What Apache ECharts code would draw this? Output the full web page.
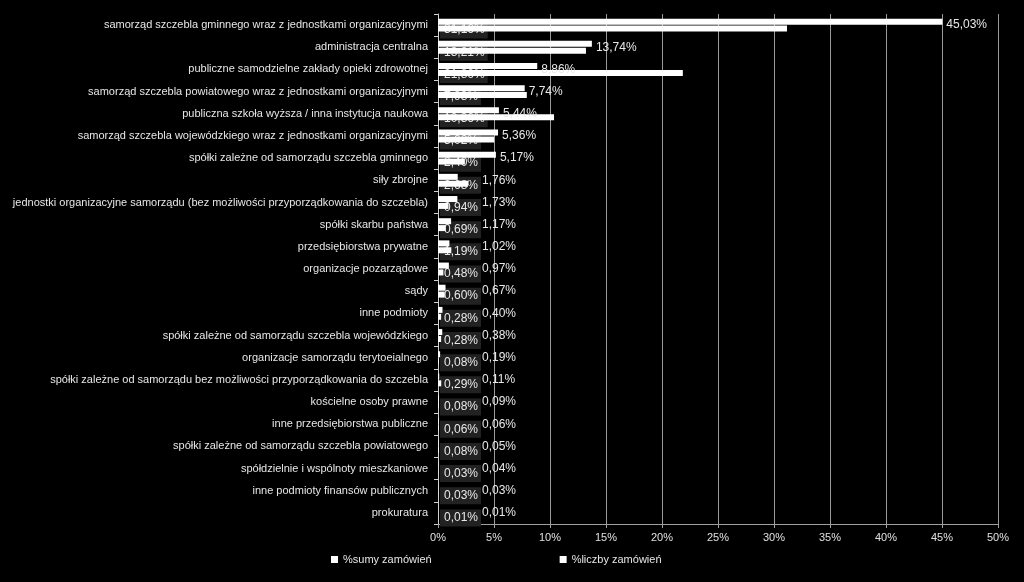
<!DOCTYPE html>
<html>
<head>
<meta charset="utf-8">
<script src="https://cdn.jsdelivr.net/npm/echarts@6/dist/echarts.min.js"></script>
<style>
html,body{margin:0;padding:0;background:#000;}
#chart{width:1024px;height:582px;}
</style>
</head>
<body>
<div id="chart"></div>
<script>
const categories = [
  "samorząd szczebla gminnego wraz z jednostkami organizacyjnymi",
  "administracja centralna",
  "publiczne samodzielne zakłady opieki zdrowotnej",
  "samorząd szczebla powiatowego wraz z jednostkami organizacyjnymi",
  "publiczna szkoła wyższa / inna instytucja naukowa",
  "samorząd szczebla wojewódzkiego wraz z jednostkami organizacyjnymi",
  "spółki zależne od samorządu szczebla gminnego",
  "siły zbrojne",
  "jednostki organizacyjne samorządu (bez możliwości przyporządkowania do szczebla)",
  "spółki skarbu państwa",
  "przedsiębiorstwa prywatne",
  "organizacje pozarządowe",
  "sądy",
  "inne podmioty",
  "spółki zależne od samorządu szczebla wojewódzkiego",
  "organizacje samorządu terytoeialnego",
  "spółki zależne od samorządu bez możliwości przyporządkowania do szczebla",
  "kościelne osoby prawne",
  "inne przedsiębiorstwa publiczne",
  "spółki zależne od samorządu szczebla powiatowego",
  "spółdzielnie i wspólnoty mieszkaniowe",
  "inne podmioty finansów publicznych",
  "prokuratura"
];
const sumyZamowien = [45.03, 13.74, 8.86, 7.74, 5.44, 5.36, 5.17, 1.76, 1.73, 1.17, 1.02, 0.97, 0.67, 0.40, 0.38, 0.19, 0.11, 0.09, 0.06, 0.05, 0.04, 0.03, 0.01];
const liczbyZamowien = [31.16, 13.21, 21.86, 7.93, 10.36, 5.02, 2.40, 2.68, 0.94, 0.69, 1.19, 0.48, 0.60, 0.28, 0.28, 0.08, 0.29, 0.08, 0.06, 0.08, 0.03, 0.03, 0.01];
const xTicks = [0, 5, 10, 15, 20, 25, 30, 35, 40, 45, 50];

const seriesNames = ["%sumy zamówień", "%liczby zamówień"];
const FONT = "Liberation Sans, Arial, sans-serif";
const fmt = v => v.toFixed(2).replace('.', ',') + '%';

const chart = echarts.init(document.getElementById('chart'), null, {renderer: 'canvas'});

const sumyLabelData = sumyZamowien.map((v, i) => [v, i]);
const liczbyLabelData = liczbyZamowien.map((v, i) => [v, i]);

chart.setOption({
  backgroundColor: '#000',
  animation: false,
  grid: {left: 438, right: 26, top: 14, bottom: 58, containLabel: false},
  legend: {
    data: seriesNames,
    bottom: 12,
    left: 326,
    itemWidth: 7,
    itemHeight: 7,
    itemGap: 128,
    icon: 'rect',
    textStyle: {color: '#e6e6e6', fontFamily: FONT, fontSize: 11}
  },
  xAxis: {
    type: 'value',
    min: 0,
    max: 50,
    interval: 5,
    axisLine: {show: true, lineStyle: {color: '#a0a0a0', width: 1}},
    axisTick: {show: true, length: 4, lineStyle: {color: '#a0a0a0'}},
    splitLine: {show: true, lineStyle: {color: '#9a9a9a', width: 1}},
    axisLabel: {color: '#e0e0e0', fontFamily: FONT, fontSize: 11, margin: 8,
      formatter: v => xTicks.includes(v) ? v + '%' : ''}
  },
  yAxis: {
    type: 'category',
    inverse: true,
    data: categories,
    axisLine: {show: true, lineStyle: {color: '#d0d0d0', width: 1}},
    axisTick: {show: true, length: 4, lineStyle: {color: '#d0d0d0'}},
    axisLabel: {color: '#e6e6e6', fontFamily: FONT, fontSize: 11, margin: 10}
  },
  series: [
    {
      name: seriesNames[0],
      type: 'bar',
      data: sumyZamowien,
      barWidth: 6,
      barGap: '15%',
      itemStyle: {color: '#ffffff'},
      z: 3
    },
    {
      name: seriesNames[1],
      type: 'bar',
      data: liczbyZamowien,
      barWidth: 6,
      barGap: '15%',
      itemStyle: {color: '#ffffff'},
      z: 3
    },
    {
      name: 'liczbyLabels',
      type: 'custom',
      z: 1,
      silent: true,
      encode: {x: 0, y: 1},
      data: liczbyLabelData,
      renderItem: function (params, api) {
        const idx = api.value(1);
        const base = api.coord([0, idx]);
        return {
          type: 'text',
          x: base[0] + 2,
          y: base[1] + 5,
          style: {
            text: fmt(api.value(0)),
            fill: '#e8e8e8',
            font: '12px ' + FONT,
            verticalAlign: 'middle',
            align: 'left',
            backgroundColor: '#222222',
            padding: [3, 3, 2, 4]
          }
        };
      }
    },
    {
      name: 'sumyLabels',
      type: 'custom',
      z: 4,
      silent: true,
      encode: {x: 0, y: 1},
      data: sumyLabelData,
      renderItem: function (params, api) {
        const idx = api.value(1);
        const end = api.coord([api.value(0), idx]);
        const base = api.coord([0, idx]);
        return {
          type: 'text',
          x: Math.max(end[0] + 4, base[0] + 44),
          y: base[1],
          style: {
            text: fmt(api.value(0)),
            fill: '#e8e8e8',
            font: '12px ' + FONT,
            verticalAlign: 'middle',
            align: 'left'
          }
        };
      }
    }
  ]
});
</script>
</body>
</html>
